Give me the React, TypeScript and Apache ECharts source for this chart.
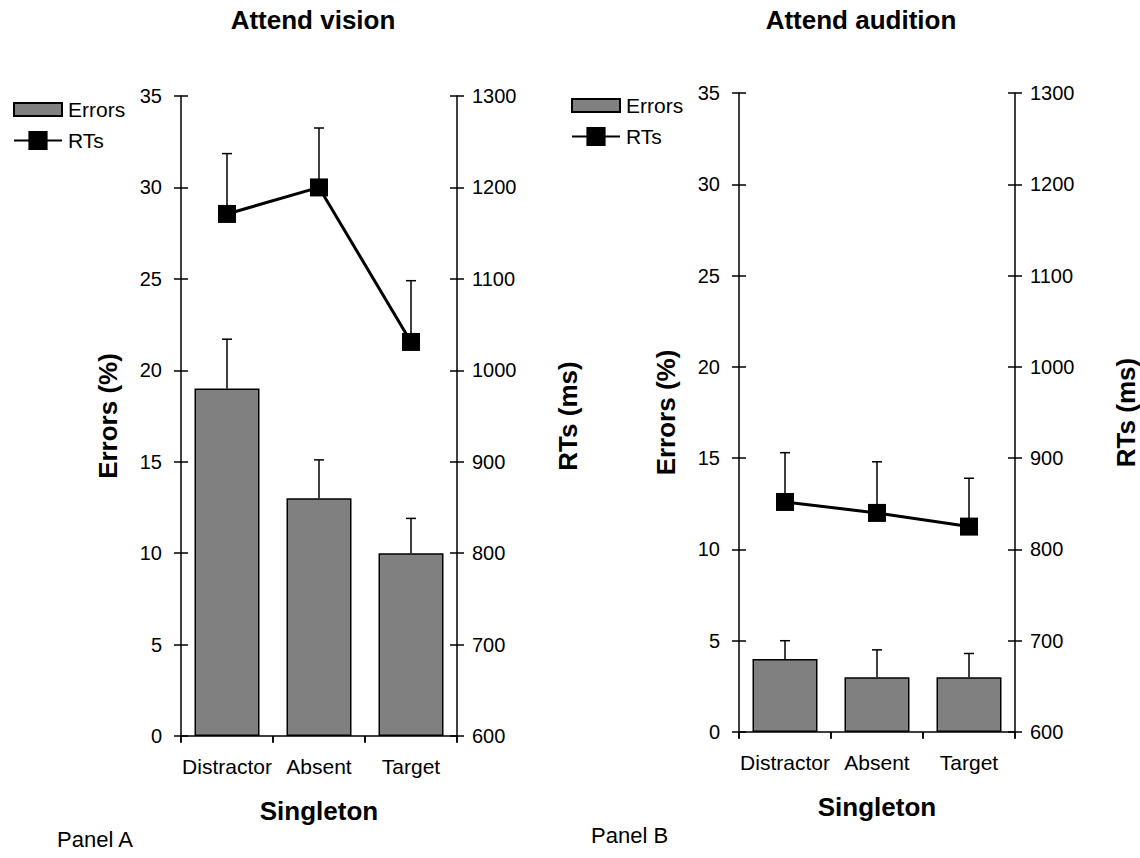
import React, { useEffect, useRef } from "react";
import * as echarts from "echarts";

// ---- Data ----
const categories = ["Distractor", "Absent", "Target"];

const errorsVision = [19, 13, 10];
const errorsVisionUpper = [21.7, 15.1, 11.9];
const rtsVision = [1171, 1200, 1031];
const rtsVisionUpper = [1237, 1265, 1098];

const errorsAudition = [4, 3, 3];
const errorsAuditionUpper = [5.0, 4.5, 4.3];
const rtsAudition = [852, 840, 825];
const rtsAuditionUpper = [906, 896, 878];

const panelTitles = ["Attend vision", "Attend audition"];
const panelLabels = ["Panel A", "Panel B"];
const errorsAxisName = "Errors (%)";
const rtsAxisName = "RTs (ms)";
const xAxisName = "Singleton";

const FONT = "'Liberation Sans', Arial, Helvetica, sans-serif";

const panels = [
  { errors: errorsVision, errorsUp: errorsVisionUpper, rts: rtsVision, rtsUp: rtsVisionUpper },
  { errors: errorsAudition, errorsUp: errorsAuditionUpper, rts: rtsAudition, rtsUp: rtsAuditionUpper },
];

const layout = [
  { left: 181, top: 96, width: 276, height: 640, titleX: 313, titleY: 7, labelX: 57, labelY: 828, legendX: 13, legendY: 99 },
  { left: 739, top: 93, width: 276, height: 639, titleX: 861, titleY: 7, labelX: 591, labelY: 824, legendX: 571, legendY: 95 },
];

function errorBarRender(params: any, api: any) {
  const base = api.coord([api.value(0), api.value(1)]);
  const top = api.coord([api.value(0), api.value(2)]);
  const half = 5;
  const style = { stroke: "#000", lineWidth: 1.5 };
  return {
    type: "group",
    children: [
      { type: "line", shape: { x1: base[0], y1: base[1], x2: top[0], y2: top[1] }, style },
      { type: "line", shape: { x1: top[0] - half, y1: top[1], x2: top[0] + half, y2: top[1] }, style },
    ],
  };
}

function buildOption() {
  const grid: any[] = [];
  const xAxis: any[] = [];
  const yAxis: any[] = [];
  const series: any[] = [];
  const legend: any[] = [];
  const graphic: any[] = [];

  const axisLineStyle = { color: "#000", width: 1.5 };
  const tickLabel = { color: "#000", fontSize: 20, fontFamily: FONT, formatter: (v: number) => String(v) };
  const nameStyle = { color: "#000", fontSize: 26, fontWeight: "bold", fontFamily: FONT };

  panels.forEach((p, i) => {
    const L = layout[i];
    grid.push({ left: L.left, top: L.top, width: L.width, height: L.height, containLabel: false });

    // x axes (main + inside-tick overlay)
    xAxis.push({
      type: "category",
      gridIndex: i,
      data: categories,
      boundaryGap: true,
      axisLine: { show: true, lineStyle: axisLineStyle },
      axisTick: { show: true, length: 7, interval: 0, lineStyle: axisLineStyle },
      axisLabel: { interval: 0, margin: 20, color: "#000", fontSize: 21, fontFamily: FONT },
      name: xAxisName,
      nameLocation: "middle",
      nameGap: 62,
      nameTextStyle: nameStyle,
      splitLine: { show: false },
    });
    xAxis.push({
      type: "category",
      gridIndex: i,
      data: categories,
      boundaryGap: true,
      axisLine: { show: false },
      axisTick: { show: true, inside: true, length: 6, interval: 0, lineStyle: axisLineStyle },
      axisLabel: { show: false },
      splitLine: { show: false },
    });

    const yBase = yAxis.length;
    // left errors axis
    yAxis.push({
      type: "value",
      gridIndex: i,
      position: "left",
      min: 0,
      max: 35,
      interval: 5,
      axisLine: { show: true, lineStyle: axisLineStyle },
      axisTick: { show: true, length: 7, lineStyle: axisLineStyle },
      axisLabel: { ...tickLabel, margin: 19 },
      splitLine: { show: false },
      name: errorsAxisName,
      nameLocation: "middle",
      nameRotate: 90,
      nameGap: 60,
      nameTextStyle: nameStyle,
    });
    // right RT axis
    yAxis.push({
      type: "value",
      gridIndex: i,
      position: "right",
      min: 600,
      max: 1300,
      interval: 100,
      axisLine: { show: true, lineStyle: axisLineStyle },
      axisTick: { show: true, length: 7, lineStyle: axisLineStyle },
      axisLabel: { ...tickLabel, margin: 15 },
      splitLine: { show: false },
      name: rtsAxisName,
      nameLocation: "middle",
      nameRotate: 90,
      nameGap: 98,
      nameTextStyle: nameStyle,
    });
    // overlays for crossing ticks
    yAxis.push({
      type: "value",
      gridIndex: i,
      position: "left",
      min: 0,
      max: 35,
      interval: 5,
      axisLine: { show: false },
      axisTick: { show: true, inside: true, length: 7, lineStyle: axisLineStyle },
      axisLabel: { show: false },
      splitLine: { show: false },
    });
    yAxis.push({
      type: "value",
      gridIndex: i,
      position: "right",
      min: 600,
      max: 1300,
      interval: 100,
      axisLine: { show: false },
      axisTick: { show: true, inside: true, length: 7, lineStyle: axisLineStyle },
      axisLabel: { show: false },
      splitLine: { show: false },
    });

    const xIdx = i * 2;
    series.push({
      type: "bar",
      name: "Errors",
      xAxisIndex: xIdx,
      yAxisIndex: yBase,
      data: p.errors,
      barWidth: 65,
      itemStyle: { color: "#808080", borderColor: "#000", borderWidth: 1.5 },
      z: 2,
    });
    series.push({
      type: "custom",
      name: "Errors SE",
      xAxisIndex: xIdx,
      yAxisIndex: yBase,
      data: categories.map((_, k) => [k, p.errors[k], p.errorsUp[k]]),
      encode: { x: 0, y: [1, 2] },
      renderItem: errorBarRender,
      z: 3,
    });
    series.push({
      type: "custom",
      name: "RTs SE",
      xAxisIndex: xIdx,
      yAxisIndex: yBase + 1,
      data: categories.map((_, k) => [k, p.rts[k], p.rtsUp[k]]),
      encode: { x: 0, y: [1, 2] },
      renderItem: errorBarRender,
      z: 3,
    });
    series.push({
      type: "line",
      name: "RTs",
      xAxisIndex: xIdx,
      yAxisIndex: yBase + 1,
      data: p.rts,
      symbol: "rect",
      symbolSize: 18,
      itemStyle: { color: "#000" },
      lineStyle: { color: "#000", width: 3 },
      z: 4,
    });

    legend.push({
      data: [{ name: "Errors", icon: "rect" }],
      left: L.legendX,
      top: L.legendY,
      itemWidth: 48,
      itemHeight: 13,
      selectedMode: false,
      padding: 0,
      textStyle: { color: "#000", fontSize: 21, fontFamily: FONT, padding: [0, 0, 0, 1] },
    });
    legend.push({
      data: ["RTs"],
      left: L.legendX,
      top: L.legendY + 31,
      itemWidth: 48,
      itemHeight: 24,
      selectedMode: false,
      padding: 0,
      textStyle: { color: "#000", fontSize: 21, fontFamily: FONT, padding: [0, 0, 0, 1] },
    });

    graphic.push({
      type: "text",
      x: L.titleX,
      y: L.titleY,
      style: { text: panelTitles[i], fill: "#000", font: `bold 26px ${FONT}`, align: "center", verticalAlign: "top" },
    });
    graphic.push({
      type: "text",
      x: L.labelX,
      y: L.labelY,
      style: { text: panelLabels[i], fill: "#000", font: `22px ${FONT}`, align: "left", verticalAlign: "top" },
    });
  });

  return {
    animation: false,
    backgroundColor: "#fff",
    grid,
    xAxis,
    yAxis,
    series,
    legend,
    graphic,
  };
}

export default function App() {
  const ref = useRef<HTMLDivElement>(null);
  useEffect(() => {
    if (!ref.current) return;
    const chart = echarts.init(ref.current, undefined, { renderer: "svg" });
    chart.setOption(buildOption() as any);
    return () => chart.dispose();
  }, []);
  return (
    <div
      ref={ref}
      style={{ position: "fixed", left: 0, top: 0, width: 1140, height: 858, background: "#fff" }}
    />
  );
}
